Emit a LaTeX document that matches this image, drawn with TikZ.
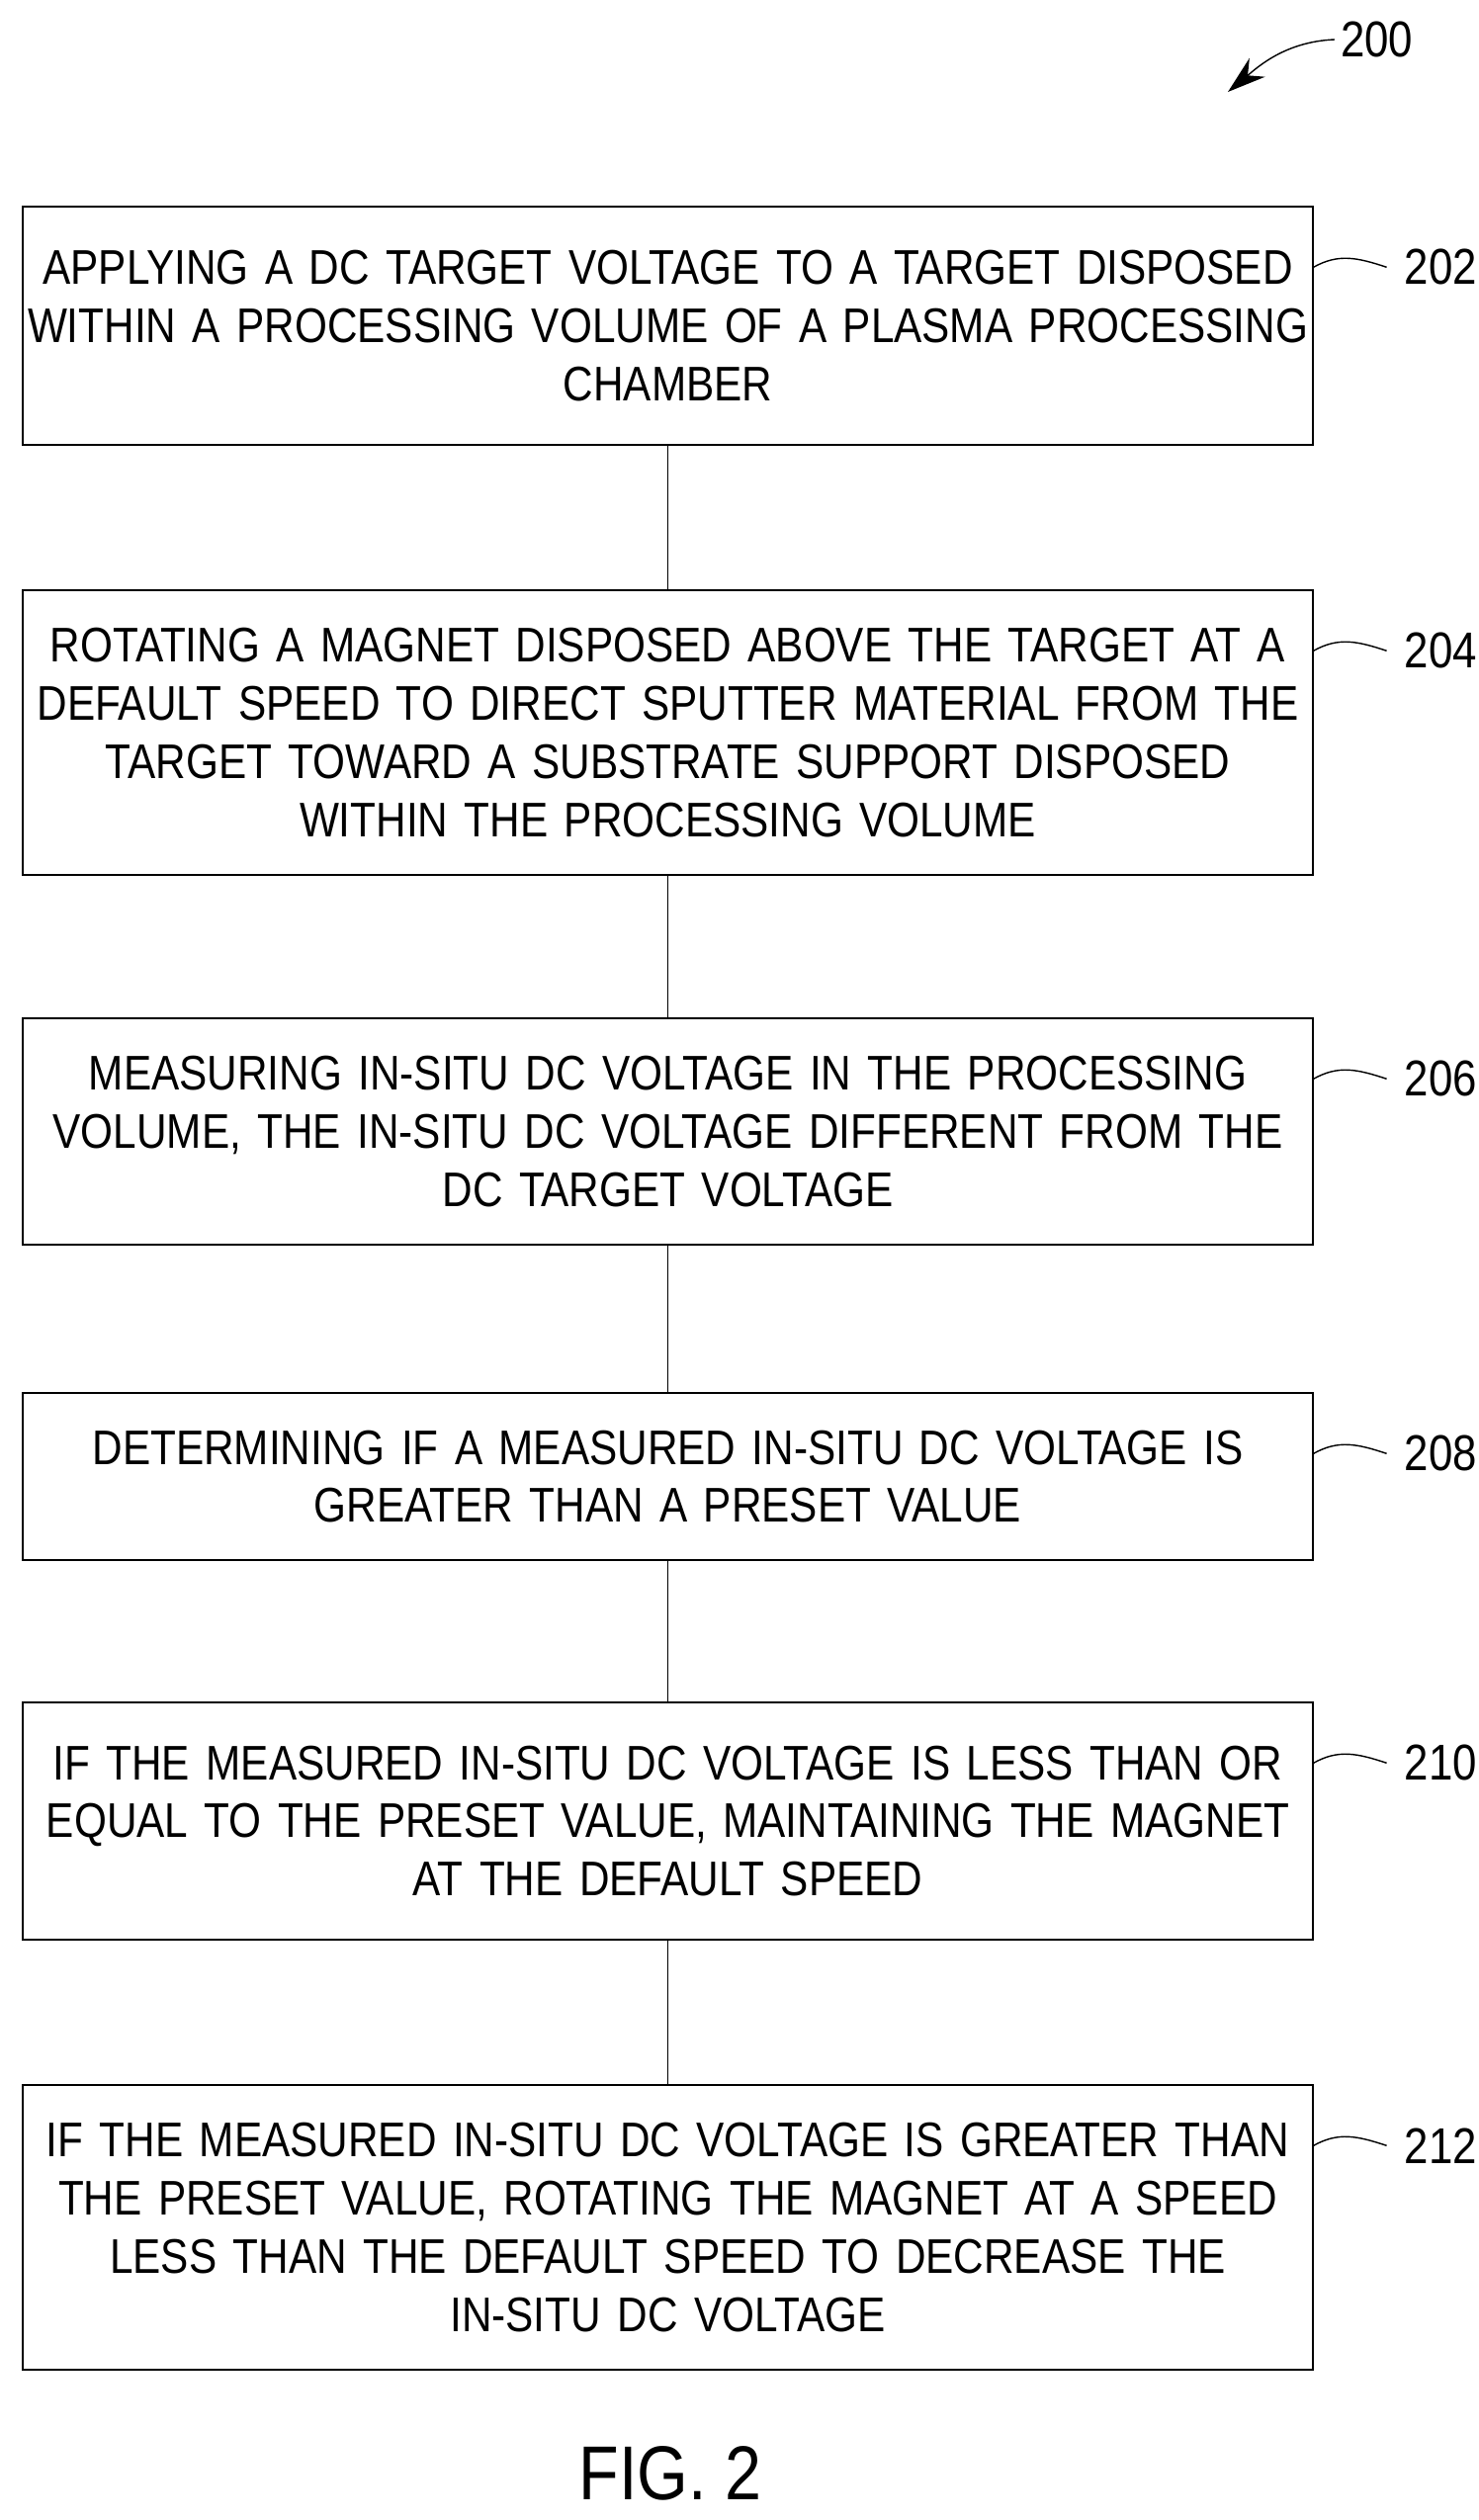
\documentclass[tikz,border=0pt]{standalone}
\usepackage{fontspec}
\setmainfont[FakeStretch=0.86]{Liberation Sans}
\usetikzlibrary{arrows.meta, positioning, calc}
\begin{document}
\begin{tikzpicture}[x=0.02cm, y=-0.02cm, >={Stealth[length=22pt, width=14pt]},
    stepbox/.style={draw, thick, text width=26.1cm, align=center,
      inner sep=0pt, font=\fontsize{28}{33.5}\selectfont},
    reflabel/.style={font=\fontsize{29}{30}\selectfont, anchor=west}]
        \useasboundingbox (0,0) rectangle (1496,2549);
        % Steps
        \node[stepbox, minimum height=241*0.02cm] (S202) at (675.5,329.5) {APPLYING A DC TARGET VOLTAGE TO A TARGET DISPOSED\\ WITHIN A PROCESSING VOLUME OF A PLASMA PROCESSING\\ CHAMBER};
        \node[stepbox, minimum height=288*0.02cm] (S204) at (675.5,741) {ROTATING A MAGNET DISPOSED ABOVE THE TARGET AT A\\ DEFAULT SPEED TO DIRECT SPUTTER MATERIAL FROM THE\\ TARGET TOWARD A SUBSTRATE SUPPORT DISPOSED\\ WITHIN THE PROCESSING VOLUME};
        \node[stepbox, minimum height=229*0.02cm] (S206) at (675.5,1144.5) {MEASURING IN-SITU DC VOLTAGE IN THE PROCESSING\\ VOLUME, THE IN-SITU DC VOLTAGE DIFFERENT FROM THE\\ DC TARGET VOLTAGE};
        \node[stepbox, minimum height=169*0.02cm] (S208) at (675.5,1493.5) {DETERMINING IF A MEASURED IN-SITU DC VOLTAGE IS\\ GREATER THAN A PRESET VALUE};
        \node[stepbox, minimum height=240*0.02cm] (S210) at (675.5,1842) {IF THE MEASURED IN-SITU DC VOLTAGE IS LESS THAN OR\\ EQUAL TO THE PRESET VALUE, MAINTAINING THE MAGNET\\ AT THE DEFAULT SPEED};
        \node[stepbox, minimum height=288*0.02cm] (S212) at (675.5,2253) {IF THE MEASURED IN-SITU DC VOLTAGE IS GREATER THAN\\ THE PRESET VALUE, ROTATING THE MAGNET AT A SPEED\\ LESS THAN THE DEFAULT SPEED TO DECREASE THE\\ IN-SITU DC VOLTAGE};

        % Connectors
        \draw[thick] (S202) -- (S204);
        \draw[thick] (S204) -- (S206);
        \draw[thick] (S206) -- (S208);
        \draw[thick] (S208) -- (S210);
        \draw[thick] (S210) -- (S212);

        % Reference numerals
        \foreach \s in {202,204,206,208,210,212} {
          \node[reflabel] (L\s) at ($(S\s.north east)+(86,62)$) {\s};
          \draw[thick] ($(S\s.north east)+(0,62)$) .. controls +(25,-14) and +(-30,-10) .. ($(L\s.west)+(-12,0)$);
        }
        \node[reflabel] (L200) at (1350,40) {200};
        \coordinate (A200) at (1242,93);
        \draw[thick, ->] (L200.west) .. controls +(-50,2) and +(30,-25) .. (A200);

        \node[font=\fontsize{44}{48}\selectfont] (fig) at (678,2502) {FIG. 2};
\end{tikzpicture}
\end{document}
